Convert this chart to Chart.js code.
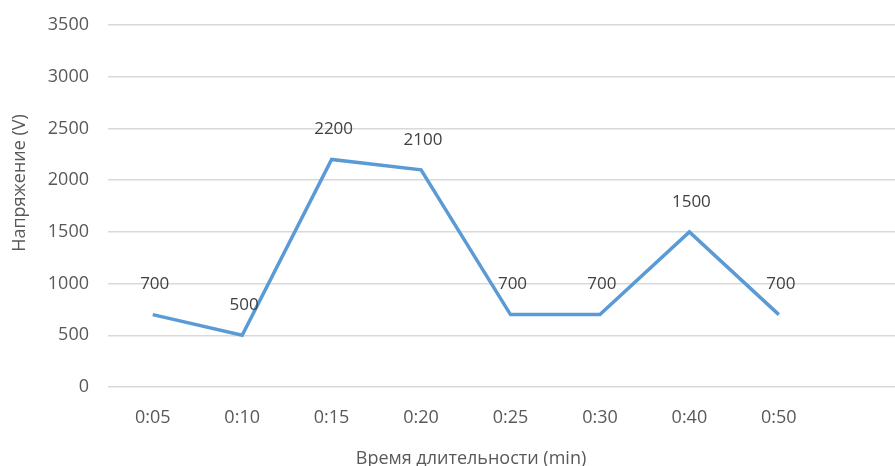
<!DOCTYPE html>
<html>
<head>
<meta charset="utf-8">
<script src="https://cdn.jsdelivr.net/npm/chart.js@4/dist/chart.umd.min.js"></script>
<style>
  html, body { margin: 0; padding: 0; background: #fff; overflow: hidden; }
</style>
</head>
<body>
<canvas id="grafica" width="913" height="466"></canvas>
<script>
// categorias (la ultima queda vacia, el area sigue a la derecha)
const tiempos = ["0:05", "0:10", "0:15", "0:20", "0:25", "0:30", "0:40", "0:50", ""];
const voltajes = [700, 500, 2200, 2100, 700, 700, 1500, 700];
const ticksY = [0, 500, 1000, 1500, 2000, 2500, 3000, 3500];

const tituloX = "Время длительности (min)";
const tituloY = "Напряжение (V)";

const fuente = "'Open Sans', 'Liberation Sans', sans-serif";

// etiquetas de valores y titulos de ejes
const etiquetas = {
  id: "etiquetas",
  afterDatasetsDraw(chart) {
    const c = chart.ctx;
    const meta = chart.getDatasetMeta(0);
    c.save();
    c.fillStyle = "#404040";
    c.font = "17px " + fuente;
    c.textAlign = "center";
    c.textBaseline = "middle";
    meta.data.forEach((p, i) => {
      c.fillText(String(voltajes[i]), p.x + 2, p.y - 30);
    });

    c.fillStyle = "#595959";
    c.font = "18px " + fuente;
    c.fillText(tituloX, 471, 459);

    c.translate(20, 183);
    c.rotate(-Math.PI / 2);
    c.fillText(tituloY, 0, 0);
    c.restore();
  }
};

const ctx = document.getElementById("grafica").getContext("2d");

const grafica = new Chart(ctx, {
  type: "line",
  data: {
    labels: tiempos,
    datasets: [{
      label: "Напряжение",
      data: voltajes,
      borderColor: "#5B9BD5",
      borderWidth: 3.5,
      pointRadius: 0,
      tension: 0,
      fill: false
    }]
  },
  options: {
    responsive: false,
    animation: false,
    layout: { padding: { top: 25, right: 0, left: 0, bottom: 0 } },
    plugins: {
      legend: { display: false },
      tooltip: { enabled: false }
    },
    scales: {
      x: {
        offset: true,
        grid: { display: false },
        border: { display: false },
        ticks: {
          color: "#595959",
          font: { family: fuente, size: 18 },
          padding: 12,
          maxRotation: 0,
          autoSkip: false
        },
        afterFit: s => { s.height = 79; }
      },
      y: {
        min: 0,
        max: 3500,
        afterBuildTicks: s => { s.ticks = ticksY.map(v => ({ value: v })); },
        grid: { color: "#d9d9d9", lineWidth: 1.5, drawTicks: false },
        border: { display: false },
        ticks: {
          color: "#595959",
          font: { family: fuente, size: 18 },
          padding: 19,
          callback: v => String(v)
        },
        afterFit: s => {
          s.width = 108;
          s.paddingTop = 0;
          s.paddingBottom = 0;
        }
      }
    }
  },
  plugins: [etiquetas]
});
</script>
</body>
</html>
